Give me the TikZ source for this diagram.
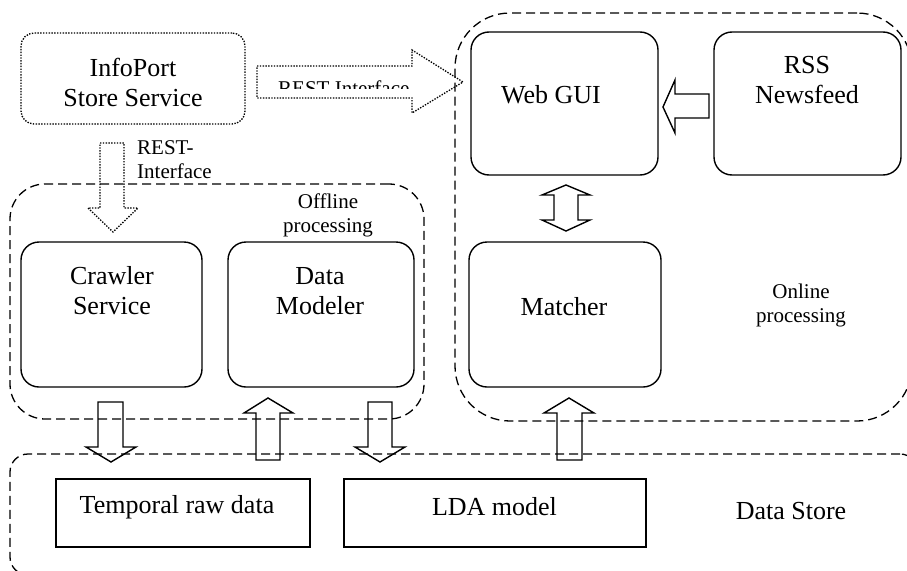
\documentclass[tikz,border=0pt]{standalone}
\usepackage{fontspec}
\setmainfont{Liberation Serif}
\begin{document}
\begin{tikzpicture}[x=1pt,y=-1pt,
  bigtxt/.style={font=\fontsize{26}{30}\selectfont, align=center, inner sep=0pt},
  smalltxt/.style={font=\fontsize{21}{24}\selectfont, align=center, inner sep=0pt},
  rbox/.style={draw, line width=1.4pt, rounded corners=18pt, inner sep=0pt},
  sbox/.style={draw, line width=1.4pt, inner sep=0pt},
  dotbox/.style={draw, line width=1.3pt, dash pattern=on 1.4pt off 1.4pt, rounded corners=13pt, inner sep=0pt},
  grp/.style={draw, line width=1.3pt, dash pattern=on 9pt off 5pt, inner sep=0pt},
  blk/.style={draw, line width=1.4pt, line join=miter},
  dotblk/.style={draw, line width=1.3pt, dash pattern=on 1.4pt off 1.4pt, line join=miter}]
\useasboundingbox (0,0) rectangle (907,570);
\clip (0,0) rectangle (907,570);
\fill[white] (0,0) rectangle (907,570);

% groups
\node[grp, rounded corners=35pt, minimum width=414pt, minimum height=235pt] (offline) at (217,301.5) {};
\node[grp, rounded corners=55pt, minimum width=457pt, minimum height=408pt] (online) at (683.5,217) {};
\node[grp, rounded corners=18pt, minimum width=908pt, minimum height=121pt] (store) at (464,514.5) {};

% boxes
\node[dotbox, minimum width=224pt, minimum height=91pt] (infoport) at (133,78.5) {};
\node[rbox, minimum width=187pt, minimum height=143pt] (webgui) at (564.5,103.5) {};
\node[rbox, minimum width=187pt, minimum height=143pt] (rss) at (807.5,103.5) {};
\node[rbox, minimum width=181pt, minimum height=145pt] (crawler) at (111.5,314.5) {};
\node[rbox, minimum width=186pt, minimum height=145pt] (modeler) at (321,314.5) {};
\node[rbox, minimum width=192pt, minimum height=145pt] (matcher) at (565,314.5) {};
\node[sbox, minimum width=254pt, minimum height=68pt] (raw) at (183,513) {};
\node[sbox, minimum width=302pt, minimum height=68pt] (lda) at (495,513) {};

% texts
\node[bigtxt] (infoportT) at (133,82) {InfoPort\\Store Service};
\node[bigtxt] (webguiT) at (551,95) {Web GUI};
\node[bigtxt] (rssT) at (807,80) {RSS\\Newsfeed};
\node[bigtxt] (crawlerT) at (112,291) {Crawler\\Service};
\node[bigtxt] (modelerT) at (320,291) {Data\\Modeler};
\node[bigtxt] (matcherT) at (564,307) {Matcher};
\node[bigtxt] (rawT) at (177,507) {Temporal raw data};
\node[bigtxt] (ldaT) at (494.5,507) {LDA model};
\node[bigtxt] (storeT) at (791,511) {Data Store};
\node[smalltxt] (offT) at (328,215) {Offline\\processing};
\node[smalltxt] (onT) at (801,305) {Online\\processing};
\node[smalltxt, align=left, anchor=west] (restT) at (137,160) {REST-\\Interface};

% dotted REST arrow to Web GUI
\draw[dotblk] (257,66) -- (412,66) -- (412,50) -- (463,82) -- (412,113) -- (412,98) -- (257,98) -- cycle;
\begin{scope}
\clip (257,66) rectangle (411,88.5);
\node[smalltxt, anchor=north west] (restH) at (278,81) {REST Interface};
\end{scope}
% dotted REST arrow down
\draw[dotblk] (100,143) -- (124,143) -- (124,208) -- (138,208) -- (113,232) -- (88,208) -- (100,208) -- cycle;

% RSS -> Web GUI
\draw[blk] (709,94) -- (675,94) -- (675,80) -- (663,107) -- (675,133) -- (675,118) -- (709,118) -- cycle;
% Web GUI <-> Matcher
\draw[blk] (566,185) -- (590,195) -- (578,195) -- (578,220) -- (590,220) -- (566,231) -- (542,220) -- (554,220) -- (554,195) -- (542,195) -- cycle;
% Crawler -> raw
\draw[blk] (98,402) -- (123,402) -- (123,447) -- (136,447) -- (111,462) -- (86,447) -- (98,447) -- cycle;
% raw -> Modeler
\draw[blk] (256,460) -- (280,460) -- (280,413) -- (293,413) -- (268,398) -- (244,413) -- (256,413) -- cycle;
% Modeler -> LDA
\draw[blk] (368,402) -- (392,402) -- (392,447) -- (405,447) -- (380,462) -- (355,447) -- (368,447) -- cycle;
% LDA -> Matcher
\draw[blk] (557,460) -- (582,460) -- (582,413) -- (594,413) -- (569,398) -- (544,413) -- (557,413) -- cycle;
\end{tikzpicture}
\end{document}
